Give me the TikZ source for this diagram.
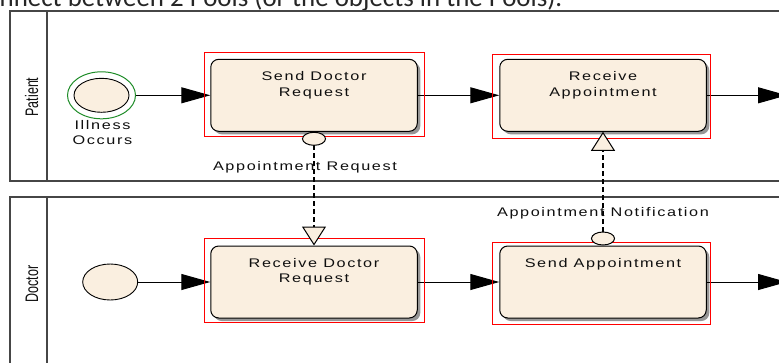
\documentclass[tikz,border=0pt]{standalone}
\usepackage{fontspec}
\setmainfont{Liberation Sans}
% wide, spaced diagram lettering, plain lettering for the rotated lane titles, body text of the page
\newfontfamily\bpfont[FakeStretch=1.3,LetterSpace=13]{Liberation Sans}
\newfontfamily\lanefont{Liberation Sans}
\newfontfamily\pagefont{Carlito}
\usetikzlibrary{arrows.meta,shapes.geometric,calc}

\definecolor{bpfill}{RGB}{250,239,224}
\definecolor{bpshadow}{RGB}{150,150,150}
\definecolor{selred}{RGB}{255,0,0}
\definecolor{startgreen}{RGB}{30,140,40}
\definecolor{poolline}{RGB}{70,70,70}
\definecolor{bptext}{RGB}{15,15,15}

\begin{document}
\begin{tikzpicture}[x=1pt,y=-1pt,
  pool/.style={draw=poolline,line width=1.5pt},
  lanelbl/.style={font=\lanefont\fontsize{12.5}{15}\selectfont, text=bptext,
    inner sep=0pt, rotate=90, anchor=base},
  task/.style={draw=black, line width=1pt, fill=bpfill, rounded corners=8pt,
    minimum width=206.5pt, minimum height=72pt, inner sep=0pt},
  taskshadow/.style={fill=bpshadow, draw=none, rounded corners=8pt,
    minimum width=206.5pt, minimum height=72pt, inner sep=0pt},
  tasktext/.style={font=\bpfont\fontsize{12.5}{15.5}\selectfont, text=bptext,
    align=center, inner sep=0pt, anchor=base},
  sel/.style={draw=selred, line width=1pt},
  startev/.style={ellipse, draw=black, line width=0.9pt, fill=bpfill,
    minimum width=55pt, minimum height=34pt, inner sep=0pt},
  ring/.style={ellipse, draw=startgreen, line width=1pt,
    minimum width=68pt, minimum height=47pt, inner sep=0pt},
  seqflow/.style={draw=black, line width=1pt, -{Triangle[length=29pt,width=16pt]}},
  msgflow/.style={draw=black, line width=1.2pt, dash pattern=on 5pt off 3pt,
    {Ellipse[length=14pt,width=24pt,fill=bpfill,line width=1pt]}-{Triangle[length=19pt,width=24pt,fill=bpfill,line width=1pt]}},
  msglbl/.style={font=\bpfont\fontsize{12.5}{15}\selectfont, text=bptext,
    inner sep=0pt, anchor=base}
]
\useasboundingbox (0,0) rectangle (779,362);

% line of running text above the diagram
\node[anchor=base west, inner sep=0pt, font=\pagefont\fontsize{26.9}{30}\selectfont,
  text=black!85] (heading) at (-0.5,6.7) {nnect between 2 Pools (or the objects in the Pools).};

% pools with their lane headers
\draw[pool] (10,11) rectangle (800,181);
\draw[pool] (47,11) -- (47,181);
\draw[pool] (10,197) rectangle (800,380);
\draw[pool] (47,197) -- (47,380);
\node[lanelbl] (patient) at (38,97) {\scalebox{1}[1.45]{Patient}};
\node[lanelbl] (doctor) at (38,284) {\scalebox{1}[1.45]{Doctor}};

% start events
\node[ring] (e1ring) at (101.5,95.3) {};
\node[startev] (e1) at (101.5,95.3) {};
\node[tasktext] (e1txt) at (102.5,144.5) {Illness\\Occurs};
\node[startev, minimum height=36pt] (e2) at (110.2,282) {};

% tasks, each with a shadow offset down and to the right
\foreach \n/\x/\y in {s1/314/95.3, s2/603/95.3, s3/314/282, s4/603/282}
  \node[taskshadow] (\n) at (\x+3,\y+3) {};
\node[task] (t1) at (314,95.3) {};
\node[task] (t2) at (603,95.3) {};
\node[task] (t3) at (314,282) {};
\node[task] (t4) at (603,282) {};
\node[tasktext] (t1txt) at ($(t1.north)+(0,37.2)$) {Send Doctor\\Request};
\node[tasktext] (t2txt) at ($(t2.north)+(0,37.2)$) {Receive\\Appointment};
\node[tasktext] (t3txt) at ($(t3.north)+(0,37.2)$) {Receive Doctor\\Request};
\node[tasktext] (t4txt) at ($(t4.north)+(0,21.7)$) {Send Appointment};

% sequence flows
\coordinate (o2) at (787,95.3);
\coordinate (o4) at (787,282);
\draw[seqflow] (e1ring) -- (t1);
\draw[seqflow] (t1) -- (t2);
\draw[seqflow] (t2) -- (o2);
\draw[seqflow] (e2) -- (t3);
\draw[seqflow] (t3) -- (t4);
\draw[seqflow] (t4) -- (o4);

% selection frames around the tasks
\draw[sel] (204.5,52.5) rectangle (424.5,136.5);
\draw[sel] (492.5,54.5) rectangle (710.5,138.5);
\draw[sel] (204.5,238.5) rectangle (424.5,322.5);
\draw[sel] (492.5,242.5) rectangle (710.5,324.5);

% message flows between the pools
\draw[msgflow] (t1.south) -- (t3.north);
\draw[msgflow] (t4.north) -- (t2.south);
\node[msglbl] (m1lbl) at (305,170) {Appointment Request};
\node[msglbl] (m2lbl) at (603,216) {Appointment Notification};
\end{tikzpicture}
\end{document}
